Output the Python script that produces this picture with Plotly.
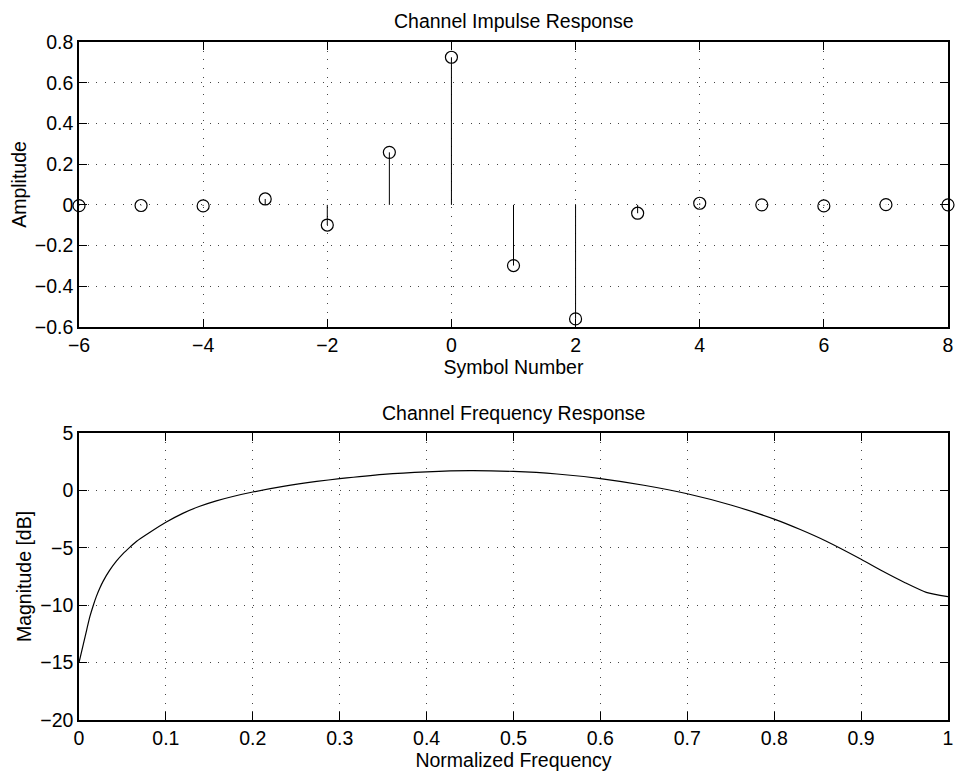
import plotly.graph_objects as go

# impulse response (symbol-spaced taps)
symbols = [-6, -5, -4, -3, -2, -1, 0, 1, 2, 3, 4, 5, 6, 7, 8]
amplitude = [-0.004, -0.003, -0.005, 0.029, -0.099, 0.258, 0.725, -0.298,
             -0.56, -0.041, 0.008, 0.0, -0.005, 0.001, 0.0]

# magnitude response
freq = [0, 0.005, 0.009, 0.0125, 0.0165, 0.02, 0.024, 0.028, 0.035, 0.043,
        0.051, 0.059, 0.066, 0.0817, 0.1, 0.12, 0.139, 0.158, 0.177, 0.2,
        0.235, 0.2735, 0.3, 0.35, 0.4, 0.45, 0.5, 0.55, 0.6, 0.65, 0.7,
        0.75, 0.8, 0.83, 0.86, 0.9, 0.925, 0.95, 0.975, 1.0]
mag_db = [-15, -13.4, -12.1, -11.0, -10, -9.23, -8.5, -7.88, -6.99, -6.17,
          -5.49, -4.92, -4.45, -3.65, -2.78, -1.98, -1.38, -0.91, -0.53, -0.14,
          0.35, 0.78, 1.02, 1.4, 1.62, 1.72, 1.65, 1.43, 1.03, 0.45, -0.29,
          -1.27, -2.5, -3.41, -4.43, -6.0, -7.05, -8.02, -8.88, -9.25]

FONT = "Liberation Sans, Arial, Helvetica, sans-serif"
FS = 19.5
text_font = dict(family=FONT, size=FS, color="black")

stem_x, stem_y = [], []
for s, a in zip(symbols, amplitude):
    stem_x += [s, s, None]
    stem_y += [0, a, None]

fig = go.Figure()
fig.add_trace(go.Scatter(x=stem_x, y=stem_y, mode="lines",
    line=dict(color="black", width=1), xaxis="x", yaxis="y",
    showlegend=False, hoverinfo="skip"))
fig.add_trace(go.Scatter(x=symbols, y=amplitude, mode="markers",
    marker=dict(symbol="circle-open", size=12, color="black",
                line=dict(width=1.2, color="black")),
    cliponaxis=False, xaxis="x", yaxis="y", showlegend=False))
fig.add_trace(go.Scatter(x=freq, y=mag_db, mode="lines",
    line=dict(color="black", width=1.2, shape="spline", smoothing=0.6),
    xaxis="x2", yaxis="y2", showlegend=False))

axis_style = dict(
    showline=True, linecolor="black", linewidth=1.5, mirror="ticks",
    ticks="inside", ticklen=8, tickcolor="black", tickwidth=1,
    showgrid=True, gridcolor="#444", gridwidth=1, griddash="1px,7.7px",
    zeroline=False, tickfont=text_font, automargin=False,
)

fig.update_layout(
    width=956, height=774,
    paper_bgcolor="white", plot_bgcolor="white",
    margin=dict(l=79, r=8, t=42, b=54, autoexpand=False),
    font=text_font,
    xaxis=dict(axis_style, range=[-6, 8], dtick=2, anchor="y",
               title=dict(text="Symbol Number", standoff=2, font=text_font)),
    yaxis=dict(axis_style, range=[-0.6, 0.8], dtick=0.2, domain=[0.5796, 1],
               anchor="x", title=dict(text="Amplitude", standoff=3, font=text_font)),
    xaxis2=dict(axis_style, range=[0, 1], dtick=0.1, anchor="y2",
                title=dict(text="Normalized Frequency", standoff=2, font=text_font)),
    yaxis2=dict(axis_style, range=[-20, 5], dtick=5, domain=[0, 0.4233],
                anchor="x2", title=dict(text="Magnitude [dB]", standoff=3, font=text_font)),
    annotations=[
        dict(text="Channel Impulse Response", x=0.5, y=1.031, xref="paper",
             yref="paper", showarrow=False, yanchor="middle", font=text_font),
        dict(text="Channel Frequency Response", x=0.5, y=0.4528, xref="paper",
             yref="paper", showarrow=False, yanchor="middle", font=text_font),
    ],
)

# drop the default 8px body margin so the figure fills the window exactly
fig.write_html("out.html", config={"displayModeBar": False},
               post_script="document.body.style.margin='0';document.body.style.overflow='hidden';")
